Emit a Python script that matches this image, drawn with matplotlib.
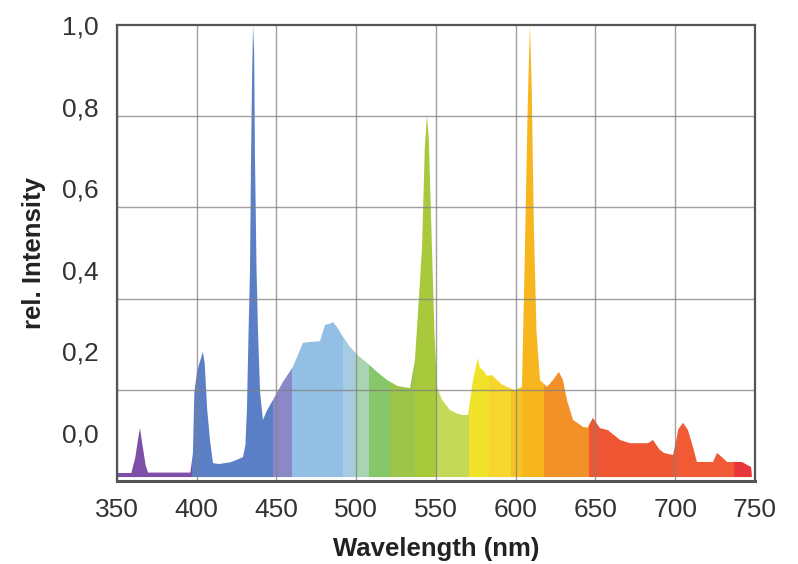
import numpy as np
import matplotlib
matplotlib.use("Agg")
import matplotlib.pyplot as plt

plt.rcParams['font.family'] = ['Liberation Sans', 'DejaVu Sans']

# spectrum (wavelength in nm, relative intensity)
wavelength = [350, 359, 361.5, 363, 364.4, 366, 368, 369.5, 396, 397.6, 398.5, 400.2, 402,
              403.9, 405, 406.5, 408.3, 410.2, 414, 421, 425, 429, 430.5, 431.5, 432.5,
              433.4, 434, 434.7, 435.3, 436, 436.5, 437.5, 438.4, 439.7, 441.5, 444, 447.8,
              454, 460.3, 466.6, 471, 477.3, 480.4, 483.5, 485.4, 487.9, 491, 496.1, 501,
              506.7, 513, 519.3, 526, 533.7, 536.8, 538.7, 541.2, 543, 544.4, 545.5, 547.5,
              549, 550.6, 553.8, 558.8, 563, 566.9, 570.1, 573.2, 576.3, 577.5, 579.5, 582,
              585.1, 588.2, 591, 594.5, 599.5, 603.9, 605.5, 607.5, 608.9, 610, 611.4, 613,
              615.2, 619.6, 623.4, 627, 629.6, 632.1, 635.9, 642.2, 645, 648.4, 652.8, 657.8,
              665.4, 671.6, 683, 686, 690, 693, 698.6, 700, 702, 704.9, 708, 711.1, 713.6,
              723.7, 726.2, 729.3, 732.5, 741.8, 745, 747.5, 748]
intensity = [-0.098, -0.098, -0.06, -0.02, 0.012, -0.03, -0.08, -0.097, -0.097, -0.05, 0.10,
             0.15, 0.175, 0.199, 0.17, 0.06, -0.017, -0.074, -0.076, -0.072, -0.066, -0.059,
             -0.03, 0.06, 0.25, 0.40, 0.66, 0.87, 1.0, 0.93, 0.68, 0.40, 0.25, 0.10, 0.032,
             0.055, 0.081, 0.125, 0.162, 0.221, 0.223, 0.225, 0.265, 0.268, 0.272, 0.26, 0.24,
             0.211, 0.19, 0.172, 0.15, 0.13, 0.115, 0.11, 0.179, 0.294, 0.45, 0.70, 0.779,
             0.72, 0.45, 0.25, 0.113, 0.081, 0.056, 0.048, 0.044, 0.044, 0.13, 0.184, 0.16,
             0.154, 0.14, 0.142, 0.13, 0.12, 0.113, 0.105, 0.113, 0.4, 0.8, 1.0, 0.85, 0.5,
             0.25, 0.13, 0.113, 0.13, 0.15, 0.13, 0.081, 0.032, 0.015, 0.013, 0.037, 0.012,
             0.007, -0.017, -0.025, -0.025, -0.017, -0.04, -0.049, -0.054, -0.03, 0.01, 0.025,
             0.007, -0.034, -0.071, -0.071, -0.049, -0.059, -0.071, -0.071, -0.078, -0.083,
             -0.10]

# colour bands (nm) used to paint the area under the curve
band_edges = [350, 397, 448, 460, 492, 499, 508, 521, 537, 550, 571, 583, 597, 604, 618,
              646, 700, 737, 750]
band_colors = ['#7d4fa6', '#5b7fc6', '#8b88c8', '#93bfe5', '#a5cce0', '#a8d4b2', '#88c66c',
               '#9cc54a', '#a8c93b', '#c3d957', '#f0e228', '#f6d62c', '#f6c225', '#f7b61e',
               '#f29128', '#ef5633', '#f05a35', '#e8363a']

xticks = [350, 400, 450, 500, 550, 600, 650, 700, 750]
yticks = [0.0, 0.2, 0.4, 0.6, 0.8, 1.0]
ytick_labels = ['0,0', '0,2', '0,4', '0,6', '0,8', '1,0']

ymin, ymax = -0.1176, 1.0
base = -0.108

fig = plt.figure(figsize=(7.98, 5.64), dpi=100)
ax = fig.add_axes([0.1466, 0.1472, 0.7995, 0.8085])

# invisible outline of the spectrum, used as clip path for the colour bands
xs = np.r_[wavelength[0], wavelength, wavelength[-1]]
ys = np.r_[base, intensity, base]
outline = ax.fill(xs, ys, facecolor='none', edgecolor='none')[0]
for lo, hi, c in zip(band_edges[:-1], band_edges[1:], band_colors):
    span = ax.axvspan(lo, hi, color=c, lw=0, zorder=1)
    span.set_clip_path(outline)

ax.set_xlim(350, 750)
ax.set_ylim(ymin, ymax)
ax.set_xticks(xticks)
ax.set_yticks(yticks)
ax.set_yticklabels(ytick_labels)
# horizontal grid lines split the box in five equal parts
ax.set_yticks([ymin + k * (ymax - ymin) / 5 for k in range(1, 5)], minor=True)
ax.tick_params(axis='both', which='both', length=0, labelsize=19, colors='#333333')
ax.tick_params(axis='x', pad=12)
ax.tick_params(axis='y', pad=13)

ax.set_axisbelow(False)
ax.grid(axis='x', which='major', color='#808080', lw=1.0, alpha=0.75, zorder=3)
ax.grid(axis='y', which='minor', color='#808080', lw=1.0, alpha=0.75, zorder=3)

for s in ax.spines.values():
    s.set_color('#555555')
    s.set_linewidth(1.6)
    s.set_zorder(4)
ax.spines['bottom'].set_linewidth(2.2)

ax.set_xlabel('Wavelength (nm)', fontsize=18.5, fontweight='bold', color='#222222', labelpad=11)
ax.set_ylabel('rel. Intensity', fontsize=18.5, fontweight='bold', color='#222222', labelpad=12)

fig.savefig('out.png', dpi=100, facecolor='white')
